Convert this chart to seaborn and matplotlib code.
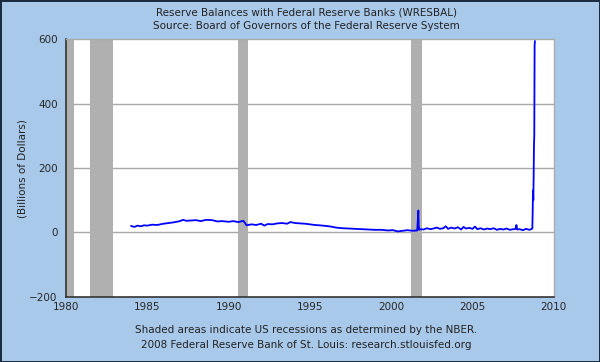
import matplotlib
matplotlib.use('Agg')
import matplotlib.pyplot as plt
import seaborn as sns
import pandas as pd

# Weekly reserve balances (decimal year, billions $)
years = [1984.0, 1984.2, 1984.4, 1984.6, 1984.8, 1985.0, 1985.3, 1985.6, 1986.0, 1986.3,
         1986.6, 1987.0, 1987.2, 1987.4, 1987.7, 1988.0, 1988.3, 1988.6, 1989.0, 1989.3,
         1989.6, 1990.0, 1990.3, 1990.6, 1990.9, 1991.0, 1991.1, 1991.4, 1991.7, 1992.0,
         1992.2, 1992.4, 1992.7, 1993.0, 1993.3, 1993.6, 1993.8, 1994.1, 1994.4, 1994.7,
         1995.0, 1995.3, 1995.6, 1996.0, 1996.3, 1996.6, 1997.0, 1997.4, 1997.8, 1998.2,
         1998.6, 1999.0, 1999.4, 1999.8, 2000.1, 2000.4, 2000.7, 2001.0, 2001.3, 2001.6,
         2001.67, 2001.69, 2001.72, 2001.8, 2002.0, 2002.2, 2002.4, 2002.6, 2002.8, 2003.0,
         2003.2, 2003.35, 2003.5, 2003.7, 2003.9, 2004.1, 2004.3, 2004.45, 2004.6, 2004.8,
         2005.0, 2005.15, 2005.3, 2005.5, 2005.7, 2005.9, 2006.1, 2006.3, 2006.5, 2006.7,
         2006.9, 2007.1, 2007.3, 2007.5, 2007.65, 2007.7, 2007.75, 2007.9, 2008.1, 2008.3,
         2008.5, 2008.6, 2008.68, 2008.70, 2008.72, 2008.74, 2008.76, 2008.78, 2008.80, 2008.82,
         2008.84]
reserves = [20, 17, 21, 19, 22, 21, 24, 23, 27, 29,
            31, 35, 39, 36, 37, 38, 35, 39, 38, 34,
            35, 33, 35, 32, 36, 30, 22, 25, 23, 27,
            21, 26, 25, 28, 29, 27, 32, 29, 28, 27,
            25, 23, 22, 20, 18, 15, 13, 12, 11, 10,
            9, 8, 8, 6, 7, 3, 5, 7, 5, 6,
            68, 22, 8, 10, 9, 13, 10, 12, 15, 11,
            13, 19, 11, 15, 12, 16, 9, 17, 12, 14,
            11, 18, 10, 13, 9, 12, 10, 13, 8, 11,
            9, 12, 8, 10, 11, 23, 9, 10, 7, 11,
            8, 10, 12, 60, 130, 100, 170, 270, 300, 580,
            594]

# NBER recessions
rec_start = [1980.0, 1981.5, 1990.55, 2001.2]
rec_end = [1980.5, 1982.9, 1991.2, 2001.9]

x_ticks = [1980, 1985, 1990, 1995, 2000, 2005, 2010]
y_ticks = [-200, 0, 200, 400, 600]

df = pd.DataFrame({'year': years, 'reserves': reserves})

sns.set_style('white')
plt.rcParams['font.family'] = ['DejaVu Sans']

bg = '#A9C9EA'
fig = plt.figure(figsize=(6, 3.62), dpi=100, facecolor=bg)
fig.patch.set_edgecolor('#1c2c40')
fig.patch.set_linewidth(2)
ax = fig.add_axes([0.11, 0.18, 0.813, 0.712])
ax.set_facecolor('white')

for s, e in zip(rec_start, rec_end):
    ax.axvspan(s, e, color='#b0b0b0', lw=0, zorder=1)

for v in [0, 200, 400]:
    ax.axhline(v, color='#a8a8a8', lw=1, zorder=0.5)

sns.lineplot(data=df, x='year', y='reserves', ax=ax, color='#0000ff', lw=1.3, zorder=3)

ax.set_xlim(1980, 2010)
ax.set_ylim(-200, 600)
ax.set_xticks(x_ticks)
ax.set_yticks(y_ticks)
ax.tick_params(axis='x', direction='in', length=4, labelsize=7.5, pad=4, color='#222222')
ax.tick_params(axis='y', direction='inout', length=6, labelsize=7.5, pad=3, color='#222222')
ax.set_xlabel('')
ax.set_ylabel('')

for side in ['left', 'bottom']:
    ax.spines[side].set_color('#333333')
    ax.spines[side].set_linewidth(1.2)
for side in ['top', 'right']:
    ax.spines[side].set_color('#aaaaaa')
    ax.spines[side].set_linewidth(1)

fig.text(0.51, 0.966, 'Reserve Balances with Federal Reserve Banks (WRESBAL)',
         ha='center', va='center', fontsize=7.5, color='#222222')
fig.text(0.51, 0.928, 'Source: Board of Governors of the Federal Reserve System',
         ha='center', va='center', fontsize=7.5, color='#222222')
fig.text(0.037, 0.535, '(Billions of Dollars)', rotation=90,
         ha='center', va='center', fontsize=7.5, color='#222222')
fig.text(0.51, 0.088, 'Shaded areas indicate US recessions as determined by the NBER.',
         ha='center', va='center', fontsize=7.5, color='#222222')
fig.text(0.51, 0.046, '2008 Federal Reserve Bank of St. Louis: research.stlouisfed.org',
         ha='center', va='center', fontsize=7.5, color='#222222')

fig.savefig('out.png', dpi=100, facecolor=fig.get_facecolor(), edgecolor=fig.patch.get_edgecolor())
